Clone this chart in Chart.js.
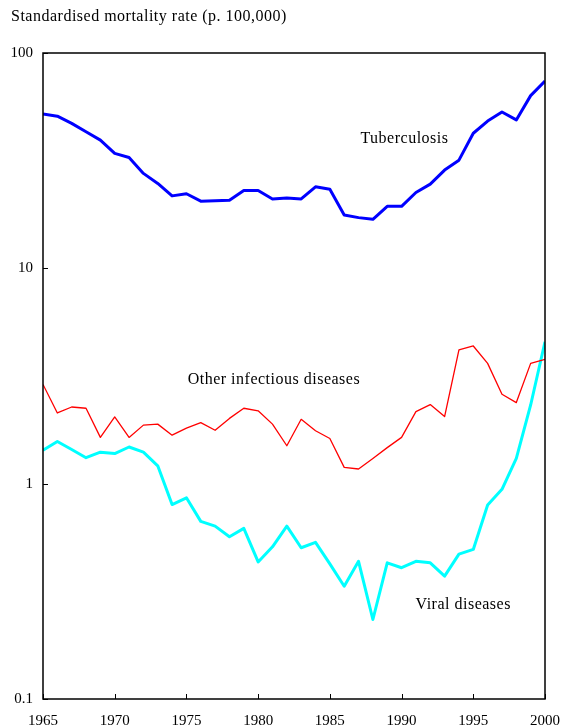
<!DOCTYPE html>
<html>
<head>
<meta charset="utf-8">
<script src="https://cdn.jsdelivr.net/npm/chart.js@4"></script>
<style>
  html, body { margin: 0; padding: 0; background: #fff; }
  #wrap { width: 561px; height: 726px; }
</style>
</head>
<body>
<div id="wrap"><canvas id="chart" width="561" height="726"></canvas></div>
<script>
const years = [];
for (let y = 1965; y <= 2000; y++) years.push(y);

const tuberculosis = [52.1, 50.9, 47.1, 43.1, 39.4, 34.2, 32.7, 27.6, 24.8, 21.7,
  22.2, 20.5, 20.6, 20.7, 23.0, 23.0, 21.0, 21.2, 21.0, 23.9,
  23.3, 17.7, 17.2, 16.9, 19.4, 19.4, 22.5, 24.6, 28.6, 31.8,
  42.4, 48.3, 53.2, 48.9, 63.4, 74.1];

const otherInfectious = [2.89, 2.13, 2.27, 2.24, 1.64, 2.04, 1.64, 1.87, 1.89, 1.68,
  1.81, 1.92, 1.77, 2.01, 2.24, 2.18, 1.89, 1.50, 1.99, 1.76,
  1.62, 1.19, 1.17, 1.31, 1.47, 1.64, 2.16, 2.33, 2.05, 4.18,
  4.36, 3.62, 2.60, 2.38, 3.62, 3.78];

const viral = [1.43, 1.57, 1.44, 1.32, 1.40, 1.38, 1.48, 1.40, 1.21, 0.80,
  0.86, 0.668, 0.635, 0.567, 0.62, 0.433, 0.509, 0.635, 0.504, 0.534,
  0.424, 0.334, 0.436, 0.234, 0.429, 0.407, 0.436, 0.429, 0.372, 0.471,
  0.495, 0.796, 0.941, 1.31, 2.32, 4.56];

const yTicks = [0.1, 1, 10, 100];
const xTicks = [1965, 1970, 1975, 1980, 1985, 1990, 1995, 2000];

// series labels placed in data coordinates [year, value]
const seriesLabels = [
  { text: 'Tuberculosis', year: 1990.2, value: 39.8 },
  { text: 'Other infectious diseases', year: 1981.1, value: 3.03 },
  { text: 'Viral diseases', year: 1994.3, value: 0.273 }
];

const FONT = '"Liberation Serif", "Times New Roman", serif';

function toPoints(arr) {
  return arr.map((v, i) => ({ x: years[i], y: v }));
}

// frame, inward ticks, y title and series labels
const decorations = {
  id: 'decorations',
  afterDraw(chart) {
    const ctx = chart.ctx;
    const a = chart.chartArea;
    const xs = chart.scales.x, ys = chart.scales.y;
    ctx.save();
    ctx.strokeStyle = '#000';
    ctx.lineWidth = 1.5;
    ctx.strokeRect(a.left, a.top, a.right - a.left, a.bottom - a.top);
    ctx.lineWidth = 1;
    ctx.beginPath();
    xTicks.forEach(t => {
      const px = Math.round(xs.getPixelForValue(t)) + 0.5;
      ctx.moveTo(px, a.bottom);
      ctx.lineTo(px, a.bottom - 5);
    });
    yTicks.forEach(t => {
      const py = Math.round(ys.getPixelForValue(t)) + 0.5;
      ctx.moveTo(a.left, py);
      ctx.lineTo(a.left + 5, py);
    });
    ctx.stroke();

    ctx.fillStyle = '#000';
    ctx.font = '16px ' + FONT;
    ctx.letterSpacing = '0.5px';
    ctx.textAlign = 'left';
    ctx.textBaseline = 'middle';
    ctx.fillText('Standardised mortality rate (p. 100,000)', 11, 17);

    ctx.textAlign = 'center';
    seriesLabels.forEach(l => {
      ctx.fillText(l.text, xs.getPixelForValue(l.year), ys.getPixelForValue(l.value));
    });
    ctx.restore();
  }
};

new Chart(document.getElementById('chart'), {
  type: 'line',
  data: {
    datasets: [
      { label: 'Tuberculosis', data: toPoints(tuberculosis), borderColor: '#0000ff', borderWidth: 3 },
      { label: 'Other infectious diseases', data: toPoints(otherInfectious), borderColor: '#ff0000', borderWidth: 1.3 },
      { label: 'Viral diseases', data: toPoints(viral), borderColor: '#00ffff', borderWidth: 3 }
    ]
  },
  options: {
    responsive: false,
    animation: false,
    devicePixelRatio: 1,
    elements: { point: { radius: 0 }, line: { tension: 0, borderJoinStyle: 'round' } },
    layout: { padding: { top: 53, right: 16, left: 0, bottom: 0 } },
    plugins: { legend: { display: false }, tooltip: { enabled: false } },
    scales: {
      x: {
        type: 'linear',
        min: 1965,
        max: 2000,
        grid: { display: false, drawTicks: false },
        border: { display: false },
        afterBuildTicks: s => { s.ticks = xTicks.map(v => ({ value: v })); },
        afterFit: s => { s.height = 27; s.paddingLeft = 0; s.paddingRight = 0; },
        ticks: {
          padding: 13,
          maxRotation: 0,
          autoSkip: false,
          color: '#000',
          font: { family: FONT, size: 15 },
          callback: v => String(v)
        }
      },
      y: {
        type: 'logarithmic',
        min: 0.1,
        max: 100,
        grid: { display: false, drawTicks: false },
        border: { display: false },
        afterBuildTicks: s => { s.ticks = yTicks.map(v => ({ value: v })); },
        afterFit: s => { s.width = 43; s.paddingTop = 0; s.paddingBottom = 0; },
        ticks: {
          padding: 10,
          autoSkip: false,
          color: '#000',
          font: { family: FONT, size: 15 },
          callback: v => String(v)
        }
      }
    }
  },
  plugins: [decorations]
});
</script>
</body>
</html>
